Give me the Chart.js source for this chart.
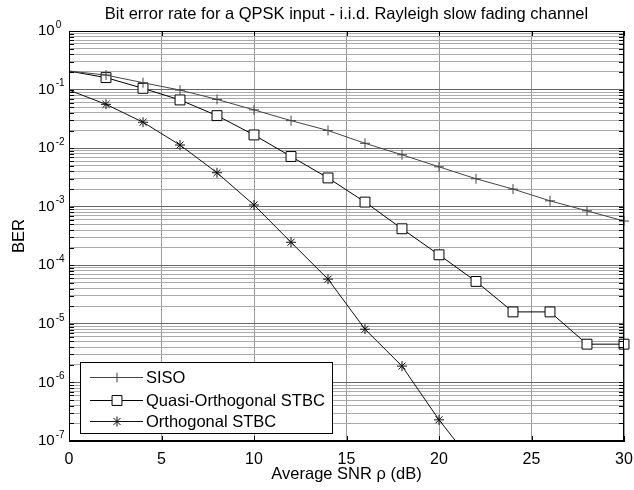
<!DOCTYPE html>
<html>
<head>
<meta charset="utf-8">
<title>BER QPSK</title>
<script src="https://cdn.jsdelivr.net/npm/chart.js@4.4.0/dist/chart.umd.min.js"></script>
<style>
  body { margin: 0; background: #fff; }
  #wrap { width: 634px; height: 490px; position: relative; }
</style>
</head>
<body>
<div id="wrap"><canvas id="berChart"></canvas></div>
<script>
// data
const snr = [0, 2, 4, 6, 8, 10, 12, 14, 16, 18, 20, 22, 24, 26, 28, 30];
const sisoBer = [0.207, 0.177, 0.131, 0.098, 0.068, 0.045, 0.0295, 0.020, 0.0121, 0.0077, 0.0048, 0.0030, 0.0020, 0.00126, 0.00085, 0.00057];
const quasiBer = [0.207, 0.16, 0.105, 0.0665, 0.0359, 0.0168, 0.0072, 0.0031, 0.0012, 0.00042, 0.000151, 5.3e-5, 1.6e-5, 1.6e-5, 4.5e-6, 4.5e-6];
const orthoSnr = [0, 2, 4, 6, 8, 10, 12, 14, 16, 18, 20, 22];
const orthoBer = [0.098, 0.056, 0.0277, 0.0113, 0.0038, 0.00107, 0.000247, 5.8e-5, 8.1e-6, 1.9e-6, 2.3e-7, 3.6e-8];

const xTicks = [0, 5, 10, 15, 20, 25, 30];
const yExponents = [0, -1, -2, -3, -4, -5, -6, -7];
const seriesNames = ["SISO", "Quasi-Orthogonal STBC", "Orthogonal STBC"];
const titleText = "Bit error rate for a QPSK input - i.i.d. Rayleigh slow fading channel";

const FONT = "Arial, 'Liberation Sans', Helvetica, sans-serif";

function toPoints(xs, ys) {
  return xs.map((x, i) => ({ x: x, y: ys[i] }));
}

// no marker at the very first point
const hideFirst = (r) => (c) => (c.raw && c.raw.x === 0 ? 0 : r);

const styles = [
  { color: "#444", pointStyle: "cross", radius: 5 },
  { color: "#000", pointStyle: "rect", radius: 7 },
  { color: "#111", pointStyle: "star", radius: 5 },
];

const matlabDecor = {
  id: "matlabDecor",
  afterDraw(chart) {
    const ctx = chart.ctx;
    const a = chart.chartArea;
    const xs = chart.scales.x;
    const ys = chart.scales.y;
    ctx.save();

    // box
    ctx.strokeStyle = "#000";
    ctx.lineWidth = 1;
    ctx.strokeRect(a.left + 0.5, a.top + 0.5, a.right - a.left - 1, a.bottom - a.top - 1);

    // inner ticks
    ctx.beginPath();
    ys.ticks.forEach((t) => {
      const py = Math.round(ys.getPixelForValue(t.value)) + 0.5;
      ctx.moveTo(a.left, py);
      ctx.lineTo(a.left + 5, py);
      ctx.moveTo(a.right, py);
      ctx.lineTo(a.right - 5, py);
    });
    xTicks.forEach((v) => {
      const px = Math.round(xs.getPixelForValue(v)) + 0.5;
      ctx.moveTo(px, a.top);
      ctx.lineTo(px, a.top + 5);
      ctx.moveTo(px, a.bottom);
      ctx.lineTo(px, a.bottom - 5);
    });
    ctx.stroke();

    // y labels 10^n
    ctx.fillStyle = "#000";
    yExponents.forEach((e) => {
      const py = ys.getPixelForValue(Math.pow(10, e));
      ctx.font = "15px " + FONT;
      ctx.textAlign = "left";
      ctx.textBaseline = "middle";
      ctx.fillText("10", 38, py);
      const w = ctx.measureText("10").width;
      ctx.font = "10px " + FONT;
      ctx.fillText(e === 0 ? "0" : "-" + Math.abs(e), 38 + w + 1, py - 6);
    });

    // title and axis titles
    ctx.font = "16.5px " + FONT;
    ctx.textAlign = "center";
    ctx.textBaseline = "alphabetic";
    ctx.fillText(titleText, (a.left + a.right) / 2, 19);
    ctx.fillText("Average SNR \u03c1 (dB)", (a.left + a.right) / 2, 479);
    ctx.translate(24, (a.top + a.bottom) / 2);
    ctx.rotate(-Math.PI / 2);
    ctx.fillText("BER", 0, 0);
    ctx.restore();

    // legend
    ctx.save();
    const bx = 80, by = 362, bw = 252, bh = 71;
    ctx.fillStyle = "#fff";
    ctx.fillRect(bx, by, bw, bh);
    ctx.strokeStyle = "#000";
    ctx.lineWidth = 1;
    ctx.strokeRect(bx + 0.5, by + 0.5, bw, bh);
    const rows = [377.5, 400.5, 421.5];
    seriesNames.forEach((name, i) => {
      const st = styles[i];
      const ry = rows[i];
      ctx.strokeStyle = st.color;
      ctx.lineWidth = 1;
      ctx.beginPath();
      ctx.moveTo(90, ry);
      ctx.lineTo(143, ry);
      ctx.stroke();
      ctx.fillStyle = "#fff";
      Chart.helpers.drawPoint(ctx, { pointStyle: st.pointStyle, radius: st.radius, rotation: 0, borderWidth: 1 }, 117, ry);
      ctx.fillStyle = "#000";
      ctx.font = "16.5px " + FONT;
      ctx.textAlign = "left";
      ctx.textBaseline = "middle";
      ctx.fillText(name, 146, ry + 1);
    });
    ctx.restore();
  },
};

const berCtx = document.getElementById("berChart").getContext("2d");
const berChart = new Chart(berCtx, {
  type: "line",
  data: {
    datasets: [
      {
        label: seriesNames[0],
        data: toPoints(snr, sisoBer),
        borderColor: styles[0].color,
        borderWidth: 1,
        pointStyle: styles[0].pointStyle,
        pointRadius: hideFirst(styles[0].radius),
        pointBorderColor: styles[0].color,
        pointBackgroundColor: "#fff",
        pointBorderWidth: 1,
        clip: false,
      },
      {
        label: seriesNames[1],
        data: toPoints(snr, quasiBer),
        borderColor: styles[1].color,
        borderWidth: 1,
        pointStyle: styles[1].pointStyle,
        pointRadius: hideFirst(styles[1].radius),
        pointBorderColor: styles[1].color,
        pointBackgroundColor: "#fff",
        pointBorderWidth: 1,
        clip: false,
      },
      {
        label: seriesNames[2],
        data: toPoints(orthoSnr, orthoBer),
        borderColor: styles[2].color,
        borderWidth: 1,
        pointStyle: styles[2].pointStyle,
        pointRadius: hideFirst(styles[2].radius),
        pointBorderColor: styles[2].color,
        pointBackgroundColor: "#fff",
        pointBorderWidth: 1,
      },
    ],
  },
  options: {
    responsive: true,
    maintainAspectRatio: false,
    animation: false,
    layout: { padding: { top: 31, right: 10, left: 0, bottom: 0 } },
    scales: {
      x: {
        type: "linear",
        min: 0,
        max: 30,
        afterBuildTicks: (s) => { s.ticks = xTicks.map((v) => ({ value: v })); },
        afterFit: (s) => {
          s.height = 49;
          s.paddingLeft = 0;
          s.paddingRight = 0;
        },
        ticks: {
          padding: 9,
          color: "#000",
          font: { family: FONT, size: 16 },
        },
        grid: { color: "#999", drawTicks: false },
        border: { display: true, color: "#000" },
      },
      y: {
        type: "logarithmic",
        min: 1e-7,
        max: 1,
        afterBuildTicks: (s) => {
          const t = [];
          for (let e = -7; e < 0; e++) {
            for (let m = 1; m <= 9; m++) t.push({ value: m * Math.pow(10, e) });
          }
          t.push({ value: 1 });
          s.ticks = t;
        },
        afterFit: (s) => {
          s.width = 69;
          s.paddingTop = 0;
          s.paddingBottom = 0;
        },
        ticks: { display: false },
        grid: {
          drawTicks: false,
          color: (c) => {
            const v = c.tick ? c.tick.value : 0;
            const lg = Math.log10(v);
            return Math.abs(lg - Math.round(lg)) < 1e-6 ? "#666" : "#aaa";
          },
        },
        border: { display: true, color: "#000" },
      },
    },
    plugins: {
      legend: { display: false },
      tooltip: { enabled: false },
    },
  },
  plugins: [matlabDecor],
});
</script>
</body>
</html>
